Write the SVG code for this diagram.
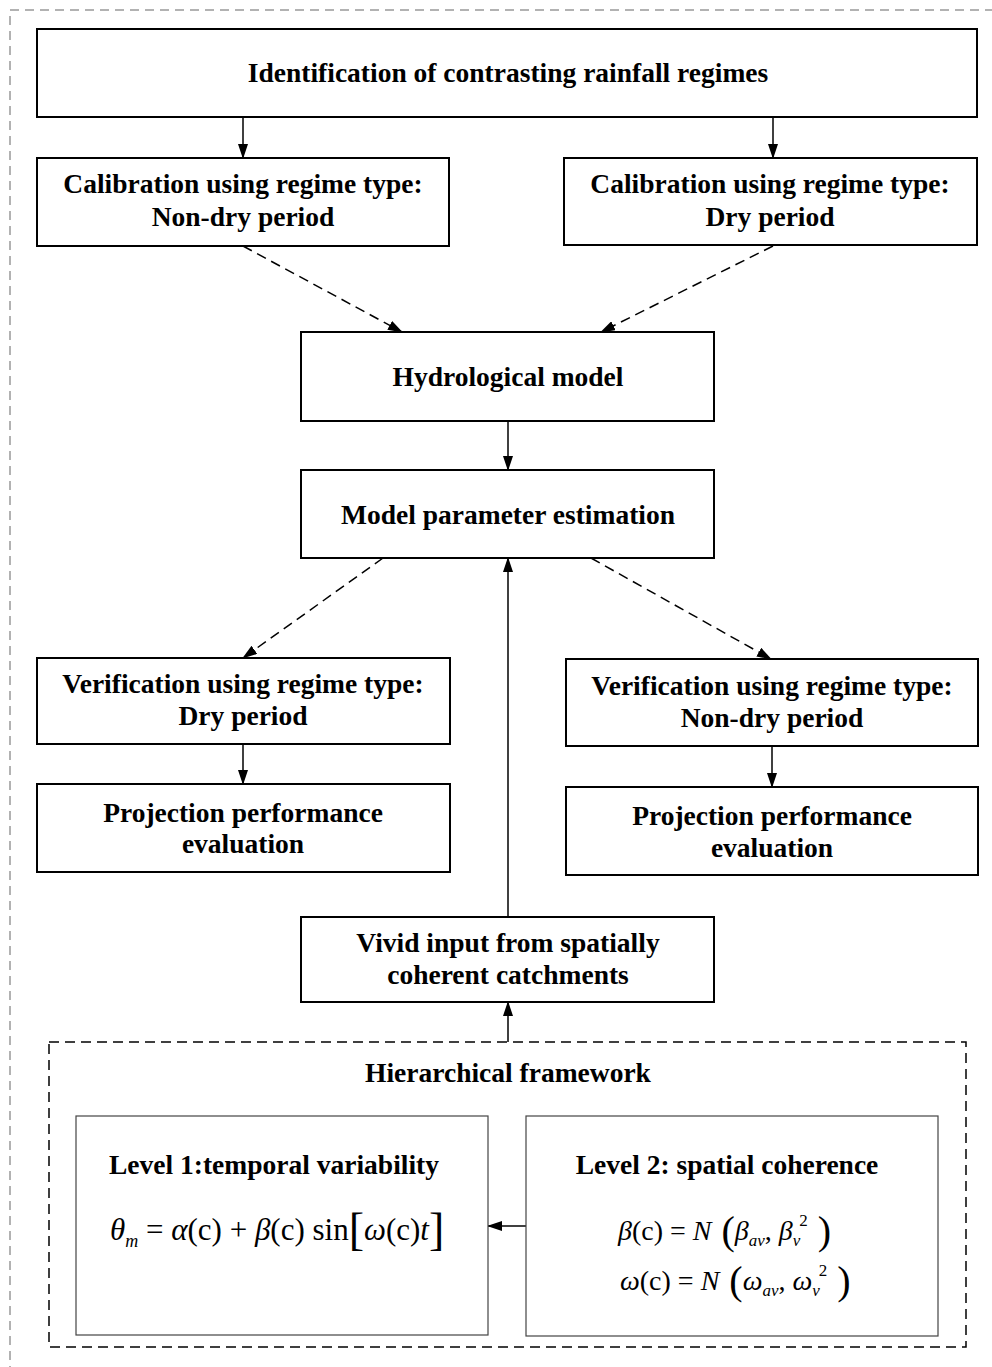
<svg xmlns="http://www.w3.org/2000/svg" width="992" height="1367" viewBox="0 0 992 1367">
<style>
.box{fill:#fff;stroke:#000;stroke-width:2}
.lvl{fill:#fff;stroke:#444;stroke-width:1.2}
.t{font-family:"Liberation Serif","Times New Roman",serif;font-weight:bold;font-size:27.5px;fill:#000;text-anchor:middle}
.f{font-family:"Liberation Serif","Times New Roman",serif;fill:#000}
.i{font-style:italic}
.c{stroke:#000;stroke-width:1.5;fill:none;marker-end:url(#ah)}
.d{stroke-dasharray:10,6}
</style>
<defs>
<marker id="ah" markerUnits="userSpaceOnUse" markerWidth="15" markerHeight="10" refX="14" refY="5" orient="auto">
<path d="M0,0 L15,5 L0,10 z" fill="#000"/>
</marker>
</defs>
<rect x="10" y="10" width="1000" height="1400" fill="none" stroke="#999" stroke-width="1.5" stroke-dasharray="9,6"/>

<g id="connectors">
<line class="c" x1="243" y1="117" x2="243" y2="158"/>
<line class="c" x1="773" y1="117" x2="773" y2="158"/>
<line class="c d" x1="243" y1="246" x2="402" y2="332"/>
<line class="c d" x1="773" y1="246" x2="601" y2="332"/>
<line class="c" x1="508" y1="421" x2="508" y2="470"/>
<line class="c d" x1="383" y1="558" x2="243" y2="658"/>
<line class="c d" x1="591" y1="558" x2="771" y2="659"/>
<line class="c" x1="243" y1="744" x2="243" y2="784"/>
<line class="c" x1="772" y1="746" x2="772" y2="787"/>
<line class="c" x1="508" y1="917" x2="508" y2="558"/>
<line class="c" x1="508" y1="1042" x2="508" y2="1002"/>
<line class="c" x1="526" y1="1226" x2="488" y2="1226"/>
</g>

<g id="identification">
<rect class="box" x="37" y="29" width="940" height="88"/>
<text class="t" x="508" y="82">Identification of contrasting rainfall regimes</text>
</g>
<g id="calib-nondry">
<rect class="box" x="37" y="158" width="412" height="88"/>
<text class="t" x="243" y="193">Calibration using regime type:</text>
<text class="t" x="243" y="226">Non-dry period</text>
</g>
<g id="calib-dry">
<rect class="box" x="564" y="158" width="413" height="87"/>
<text class="t" x="770" y="193">Calibration using regime type:</text>
<text class="t" x="770" y="226">Dry period</text>
</g>
<g id="hydro-model">
<rect class="box" x="301" y="332" width="413" height="89"/>
<text class="t" x="508" y="386">Hydrological model</text>
</g>
<g id="param-est">
<rect class="box" x="301" y="470" width="413" height="88"/>
<text class="t" x="508" y="524">Model parameter estimation</text>
</g>
<g id="verif-dry">
<rect class="box" x="37" y="658" width="413" height="86"/>
<text class="t" x="243" y="693">Verification using regime type:</text>
<text class="t" x="243" y="725">Dry period</text>
</g>
<g id="proj-left">
<rect class="box" x="37" y="784" width="413" height="88"/>
<text class="t" x="243" y="822">Projection performance</text>
<text class="t" x="243" y="853">evaluation</text>
</g>
<g id="verif-nondry">
<rect class="box" x="566" y="659" width="412" height="87"/>
<text class="t" x="772" y="695">Verification using regime type:</text>
<text class="t" x="772" y="727">Non-dry period</text>
</g>
<g id="proj-right">
<rect class="box" x="566" y="787" width="412" height="88"/>
<text class="t" x="772" y="825">Projection performance</text>
<text class="t" x="772" y="857">evaluation</text>
</g>
<g id="vivid-input">
<rect class="box" x="301" y="917" width="413" height="85"/>
<text class="t" x="508" y="952">Vivid input from spatially</text>
<text class="t" x="508" y="984">coherent catchments</text>
</g>
<g id="hierarchical">
<rect x="49" y="1042" width="917" height="305" fill="none" stroke="#000" stroke-width="1.5" stroke-dasharray="10,6"/>
<text class="t" x="508" y="1082">Hierarchical framework</text>
</g>
<g id="level1">
<rect class="lvl" x="76" y="1116" width="412" height="219"/>
<text class="t" x="274" y="1174">Level 1:temporal variability</text>
<text class="f" x="110" y="1240" font-size="31"><tspan class="i">θ</tspan><tspan class="i" font-size="18" dy="7">m</tspan><tspan dy="-7"> = </tspan><tspan class="i">α</tspan>(c) + <tspan class="i">β</tspan>(c) sin<tspan font-size="46" dy="5">[</tspan><tspan class="i" dy="-5">ω</tspan>(c)<tspan class="i">t</tspan><tspan font-size="46" dy="5">]</tspan></text>
</g>
<g id="level2">
<rect class="lvl" x="526" y="1116" width="412" height="220"/>
<text class="t" x="727" y="1174">Level 2: spatial coherence</text>
<text class="f" x="618" y="1240" font-size="28"><tspan class="i">β</tspan>(c) = <tspan class="i">N</tspan><tspan font-size="40" dy="4"> (</tspan><tspan class="i" dy="-4">β</tspan><tspan class="i" font-size="17" dy="6">av</tspan><tspan dy="-6">, </tspan><tspan class="i">β</tspan><tspan class="i" font-size="17" dy="6">v</tspan><tspan font-size="17" dx="-1" dy="-20">2</tspan><tspan font-size="40" dy="18"> )</tspan></text>
<text class="f" x="620" y="1290" font-size="28"><tspan class="i">ω</tspan>(c) = <tspan class="i">N</tspan><tspan font-size="40" dy="4"> (</tspan><tspan class="i" dy="-4">ω</tspan><tspan class="i" font-size="17" dy="6">av</tspan><tspan dy="-6">, </tspan><tspan class="i">ω</tspan><tspan class="i" font-size="17" dy="6">v</tspan><tspan font-size="17" dx="-1" dy="-20">2</tspan><tspan font-size="40" dy="18"> )</tspan></text>
</g>
</svg>
